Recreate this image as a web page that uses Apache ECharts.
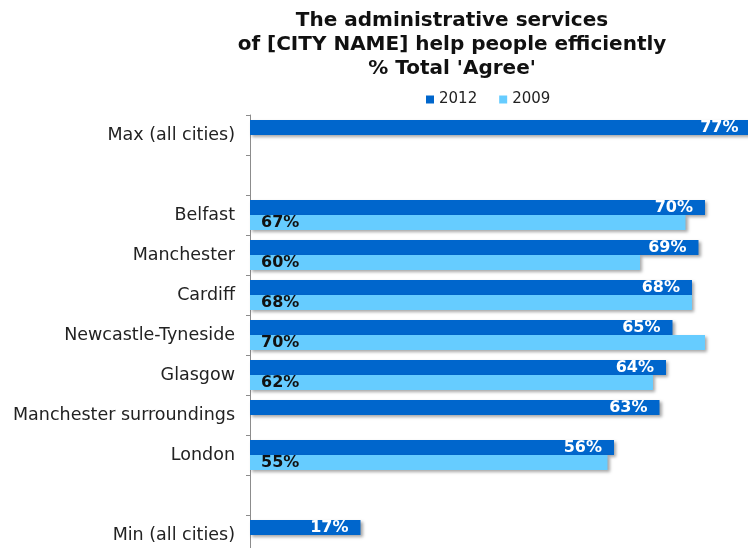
<!DOCTYPE html>
<html>
<head>
<meta charset="utf-8">
<script src="https://cdn.jsdelivr.net/npm/echarts@6/dist/echarts.min.js"></script>
<style>
  html, body { margin: 0; padding: 0; background: #fff; }
  #chart { width: 748px; height: 548px; }
</style>
</head>
<body>
<div id="chart"></div>
<script>
// Categories top to bottom; empty strings leave spacer rows
const categories = ['Max (all cities)', '', 'Belfast', 'Manchester', 'Cardiff',
  'Newcastle-Tyneside', 'Glasgow', 'Manchester surroundings', 'London', '', 'Min (all cities)'];
const values2012 = [77, null, 70, 69, 68, 65, 64, 63, 56, null, 17];
const values2009 = [null, null, 67, 60, 68, 70, 62, null, 55, null, null];
const titleLines = ['The administrative services', 'of [CITY NAME] help people efficiently', "% Total 'Agree'"];

const FONT = 'DejaVu Sans, Verdana, sans-serif';
const barShadow = {
  shadowColor: 'rgba(0,0,0,0.35)',
  shadowBlur: 3,
  shadowOffsetX: 2,
  shadowOffsetY: 2
};

const chart = echarts.init(document.getElementById('chart'), null, { renderer: 'canvas' });
chart.setOption({
  animation: false,
  graphic: [{
    type: 'text',
    x: 452,
    y: 9,
    style: {
      text: titleLines.join('\n'),
      textAlign: 'center',
      fontFamily: FONT,
      fontWeight: 'bold',
      fontSize: 20,
      lineHeight: 24,
      fill: '#111'
    }
  }],
  legend: {
    left: 421,
    top: 87,
    icon: 'rect',
    itemWidth: 8,
    itemHeight: 8,
    itemGap: 22,
    textStyle: { fontFamily: FONT, fontSize: 15, color: '#222' },
    data: ['2012', '2009']
  },
  // The plot runs a little past the canvas on the right and bottom
  grid: { left: 250, top: 115, width: 520, height: 440, outerBoundsMode: 'none', containLabel: false },
  xAxis: {
    type: 'value',
    min: 0,
    max: 80,
    show: false
  },
  yAxis: {
    type: 'category',
    inverse: true,
    data: categories,
    axisLine: { show: true, lineStyle: { color: '#8c8c8c', width: 1 } },
    axisTick: { show: true, inside: false, length: 4, interval: 0, lineStyle: { color: '#8c8c8c' } },
    axisLabel: { fontFamily: FONT, fontSize: 17.5, color: '#222', margin: 15, interval: 0 }
  },
  series: [{
    name: '2012',
    type: 'bar',
    data: values2012,
    barGap: '0%',
    barCategoryGap: '25%',
    itemStyle: Object.assign({ color: '#0066CC' }, barShadow),
    label: {
      show: true,
      position: 'insideRight',
      distance: 12,
      formatter: '{c}%',
      fontFamily: FONT,
      fontWeight: 'bold',
      fontSize: 16,
      color: '#fff'
    }
  }, {
    name: '2009',
    type: 'bar',
    data: values2009,
    itemStyle: Object.assign({ color: '#66CCFF' }, barShadow),
    label: {
      show: true,
      position: 'insideLeft',
      distance: 11,
      formatter: '{c}%',
      fontFamily: FONT,
      fontWeight: 'bold',
      fontSize: 16,
      color: '#111'
    }
  }]
});
</script>
</body>
</html>
